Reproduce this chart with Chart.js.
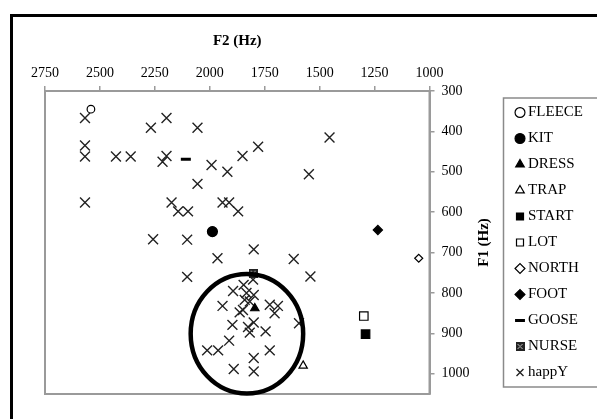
<!DOCTYPE html>
<html>
<head>
<meta charset="utf-8">
<script src="https://cdn.jsdelivr.net/npm/chart.js@4.4.1/dist/chart.umd.min.js"></script>
<style>
  html, body { margin: 0; padding: 0; background: #fff; overflow: hidden; }
  #frame { position: absolute; left: 10px; top: 14px; width: 620px; height: 440px; border-top: 3px solid #000; border-left: 3px solid #000; }
  #wrap { position: absolute; left: 0; top: 0; width: 610px; height: 419px; }
</style>
</head>
<body>
<div id="frame"></div>
<div id="wrap"><canvas id="vowel-plot"></canvas></div>
<script>
// Tick values
const f2Ticks = [2750, 2500, 2250, 2000, 1750, 1500, 1250, 1000];
const f1Ticks = [300, 400, 500, 600, 700, 800, 900, 1000];

// Vowel means, [F2, F1] in Hz
const fleece = [[2541, 345]];
const kit = [[1988, 648]];
const dress = [[1795, 838]];
const trap = [[1575, 980]];
const start = [[1291, 902]];
const lot = [[1299, 857]];
const north = [[1049, 714]];
const foot = [[1235, 644]];
const goose = [[2109, 469]];
const nurse = [[1803, 751]];

// happY tokens
const happyF2 = [
  2568, 2197, 2268, 2056, 2568, 2568, 2427, 2360, 2197, 2215, 1992, 1920, 1851, 1780,
  2056, 2568, 2174, 2144, 2099, 1942, 1912, 1871, 2258, 2103, 1965, 1800, 2103,
  1455, 1549, 1618, 1542, 1594,
  1803, 1846, 1894, 1833, 1800, 1841, 1818, 1942, 1849, 1864, 1727, 1690, 1705,
  1897, 1800, 1826, 1818, 1746, 1912, 2012, 1962, 1727, 1800, 1800, 1891,
];
const happyF1 = [
  367, 367, 391, 391, 435, 462, 462, 462, 461, 475, 483, 500, 461, 438,
  530, 576, 576, 598, 598, 576, 576, 598, 667, 668, 714, 692, 760,
  415, 506, 716, 759, 875,
  767, 780, 795, 800, 805, 817, 821, 832, 842, 848, 829, 832, 850,
  879, 873, 884, 898, 895, 918, 942, 942, 942, 961, 994, 988,
];

// Ring drawn round the happY cluster (centre and radii in Hz)
const ringCentre = [1831, 901];
const ringRadius = [256, 148];

const toPoints = (pairs) => pairs.map(([x, y]) => ({ x, y }));

// small filled square with a cross, for NURSE
const nurseMark = document.createElement('canvas');
nurseMark.width = 9;
nurseMark.height = 9;
(() => {
  const c = nurseMark.getContext('2d');
  c.fillStyle = '#222';
  c.fillRect(0, 0, 9, 9);
  c.strokeStyle = '#bbb';
  c.lineWidth = 1;
  c.beginPath();
  c.moveTo(2, 2); c.lineTo(7, 7);
  c.moveTo(7, 2); c.lineTo(2, 7);
  c.stroke();
})();

const serif = "'Liberation Serif', 'Times New Roman', serif";
Chart.defaults.font.family = serif;
Chart.defaults.color = '#000';

const mark = (label, data, pointStyle, radius, filled, extra = {}) => ({
  label,
  data,
  pointStyle,
  pointRadius: radius,
  pointHoverRadius: radius,
  borderColor: '#000',
  backgroundColor: filled ? '#000' : '#fff',
  borderWidth: 1.2,
  ...extra,
});

// plot frame, ring and F1 title
const extras = {
  id: 'extras',
  beforeDatasetsDraw(chart) {
    const { ctx, chartArea: a } = chart;
    ctx.save();
    ctx.strokeStyle = '#9a9a9a';
    ctx.lineWidth = 2;
    ctx.strokeRect(a.left, a.top, a.right - a.left, a.bottom - a.top);
    ctx.restore();
  },
  afterDatasetsDraw(chart) {
    const { ctx, scales: { x, y } } = chart;
    const cx = x.getPixelForValue(ringCentre[0]);
    const cy = y.getPixelForValue(ringCentre[1]);
    const rx = Math.abs(x.getPixelForValue(ringCentre[0] + ringRadius[0]) - cx);
    const ry = Math.abs(y.getPixelForValue(ringCentre[1] + ringRadius[1]) - cy);
    ctx.save();
    ctx.strokeStyle = '#000';
    ctx.lineWidth = 4.5;
    ctx.beginPath();
    ctx.ellipse(cx, cy, rx, ry, 0, 0, Math.PI * 2);
    ctx.stroke();
    ctx.restore();
  },
  afterDraw(chart) {
    const { ctx, chartArea: a, legend } = chart;
    ctx.save();
    ctx.font = `bold 15px ${serif}`;
    ctx.fillStyle = '#000';
    ctx.textAlign = 'center';
    ctx.textBaseline = 'middle';
    ctx.translate(a.right + 55, (a.top + a.bottom) / 2);
    ctx.rotate(-Math.PI / 2);
    ctx.fillText('F1 (Hz)', 0, 0);
    ctx.restore();

    // legend box
    const boxes = legend.legendHitBoxes;
    const top = boxes[0].top - 7;
    const bottom = boxes[boxes.length - 1].top + boxes[boxes.length - 1].height + 7;
    ctx.save();
    ctx.strokeStyle = '#8a8a8a';
    ctx.lineWidth = 1.5;
    ctx.strokeRect(legend.left - 5, top, chart.width, bottom - top);
    ctx.restore();
  },
};

const chart = new Chart(document.getElementById('vowel-plot'), {
  type: 'scatter',
  data: {
    datasets: [
      mark('FLEECE', toPoints(fleece), 'circle', 3.8, false),
      mark('KIT', toPoints(kit), 'circle', 5, true),
      mark('DRESS', toPoints(dress), 'triangle', 4.8, true),
      mark('TRAP', toPoints(trap), 'triangle', 4.8, false),
      mark('START', toPoints(start), 'rect', 6, true),
      mark('LOT', toPoints(lot), 'rect', 6, false),
      mark('NORTH', toPoints(north), 'rectRot', 4, false),
      mark('FOOT', toPoints(foot), 'rectRot', 4.6, true),
      mark('GOOSE', toPoints(goose), 'line', 5, true, { borderWidth: 3 }),
      mark('NURSE', toPoints(nurse), nurseMark, 5, true),
      mark('happY', happyF2.map((x, i) => ({ x, y: happyF1[i] })), 'crossRot', 7, false, {
        borderColor: '#222', borderWidth: 1.4,
      }),
    ],
  },
  options: {
    animation: false,
    responsive: true,
    maintainAspectRatio: false,
    layout: {
      padding: { top: 20, left: 45, right: 17, bottom: 25 },
    },
    scales: {
      x: {
        type: 'linear',
        position: 'top',
        reverse: true,
        min: 1000,
        max: 2750,
        afterBuildTicks: (scale) => { scale.ticks = f2Ticks.map((value) => ({ value })); },
        afterFit: (scale) => { scale.height = 71; },
        grid: { drawOnChartArea: false, tickLength: 5, color: '#9a9a9a', lineWidth: 1.5 },
        border: { color: '#9a9a9a', width: 2 },
        ticks: { font: { size: 14 }, padding: 4, maxRotation: 0, callback: (v) => String(v) },
        title: {
          display: true,
          text: 'F2 (Hz)',
          font: { size: 15, weight: 'bold' },
          padding: { top: 12, bottom: 4 },
        },
      },
      y: {
        type: 'linear',
        position: 'right',
        reverse: true,
        min: 300,
        max: 1050,
        afterBuildTicks: (scale) => { scale.ticks = f1Ticks.map((value) => ({ value })); },
        afterFit: (scale) => { scale.width = 79; },
        grid: { drawOnChartArea: false, tickLength: 5, color: '#9a9a9a', lineWidth: 1.5 },
        border: { color: '#9a9a9a', width: 2 },
        ticks: { font: { size: 14 }, padding: 7, callback: (v) => String(v) },
      },
    },
    plugins: {
      legend: {
        position: 'right',
        align: 'center',
        fullSize: false,
        labels: {
          usePointStyle: true,
          boxWidth: 1,
          boxHeight: 7,
          padding: 11,
          font: { size: 15 },
        },
      },
      tooltip: { enabled: false },
    },
  },
  plugins: [extras],
});
</script>
</body>
</html>
